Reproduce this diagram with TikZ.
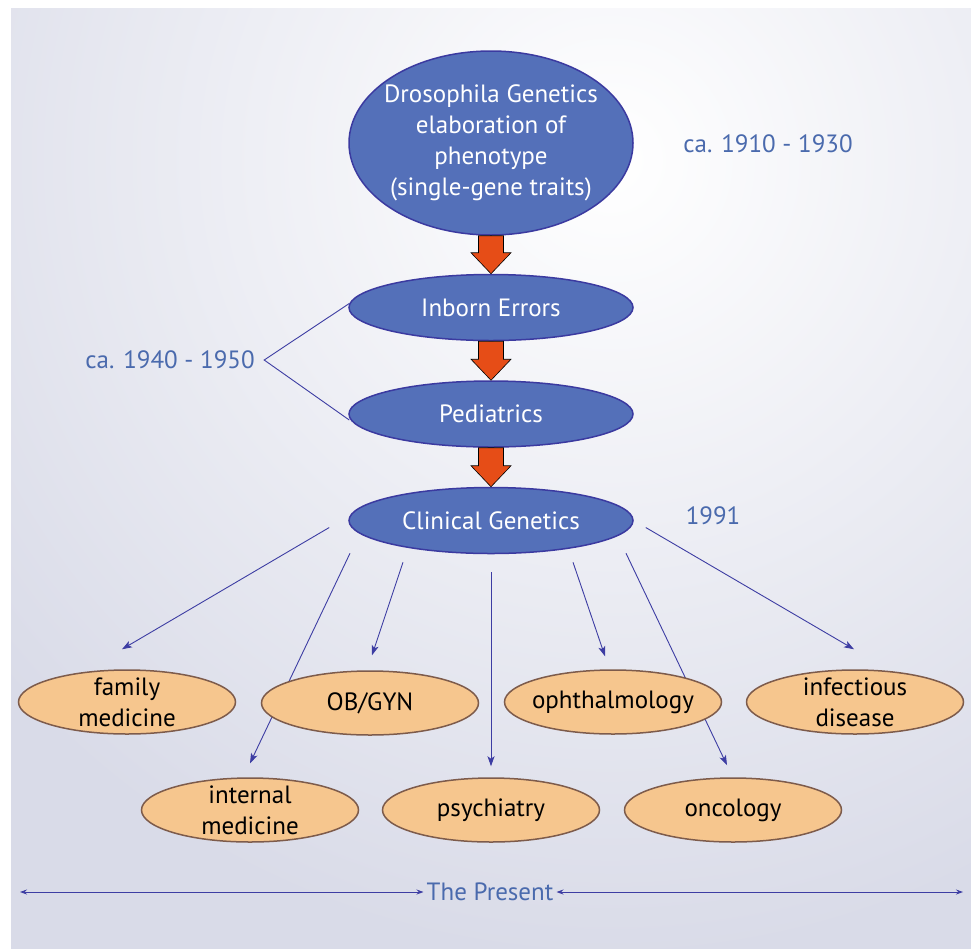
\documentclass[tikz,border=0pt]{standalone}
\usepackage{fontspec}
\setmainfont{PT Sans}
\usetikzlibrary{arrows.meta,calc,positioning,shapes.geometric}
\definecolor{stagefill}{HTML}{5470B9}
\definecolor{stageline}{HTML}{3B3AA0}
\definecolor{fieldfill}{HTML}{F6C68E}
\definecolor{fieldline}{HTML}{7D5B4B}
\definecolor{eratext}{HTML}{4A6AAD}
\definecolor{linkblue}{HTML}{3D3DA3}
\definecolor{pushred}{HTML}{E64D17}
\definecolor{bgc}{HTML}{D9DBE8}
\pgfdeclarelayer{bg}
\pgfdeclarelayer{back}
\pgfsetlayers{bg,back,main}
\newcommand{\bigfont}{\fontsize{25}{31}\selectfont}
% block arrow from the bottom of #1 down to the top of #2
\newcommand{\pushdown}[2]{%
  \filldraw[push] ($(#1.south)+(-12.5,0)$) -- ($(#1.south)+(12.5,0)$)
    |- ($(#2.north)+(20,-21)$) -- (#2.north) -- ($(#2.north)+(-20,-21)$) -| cycle;}

\begin{document}
\begin{tikzpicture}[
  x=1pt, y=-1pt,
  >={Stealth[length=10pt,width=7pt,inset=2.5pt]},
  stage/.style={ellipse, draw=stageline, line width=1.5pt, fill=stagefill,
                text=white, align=center, font=\bigfont,
                minimum width=284pt, minimum height=66pt, inner sep=0pt},
  field/.style={ellipse, draw=fieldline, line width=1.5pt, fill=fieldfill,
                align=center, font=\bigfont, text=black, minimum width=217pt,
                minimum height=64pt, inner xsep=-22pt, inner ysep=-7pt},
  era/.style={text=eratext, font=\bigfont},
  link/.style={->, draw=linkblue, line width=0.9pt},
  push/.style={fill=pushred, draw=black, line width=0.6pt}
]
  \useasboundingbox (0,0) rectangle (971,948);
  \begin{pgfonlayer}{bg}
    \fill[bgc] (11,8) rectangle (975,952);
    \begin{scope}
      \clip (11,8) rectangle (975,952);
      \shade[inner color=white, outer color=bgc] (610,160) circle (800);
    \end{scope}
  \end{pgfonlayer}

  % main line
  \node[stage, minimum height=184pt, inner xsep=-14pt] (dros) at (491,143)
    {Drosophila Genetics\\elaboration of\\phenotype\\(single-gene traits)};
  \node[stage, below=38pt of dros] (inb) {Inborn Errors};
  \node[stage, below=39pt of inb] (ped) {Pediatrics};
  \node[stage, below=39pt of ped] (clin) {Clinical Genetics};

  \pushdown{dros}{inb}
  \pushdown{inb}{ped}
  \pushdown{ped}{clin}

  % dates
  \node[era] (era1) at (768,144) {ca. 1910 - 1930};
  \node[era] (era2) at (170,360) {ca. 1940 - 1950};
  \node[era] (era3) at (713,516) {1991};
  \coordinate (fork) at ($(era2.east)+(6,0)$);
  \draw[linkblue, line width=0.9pt] ($(inb.west)+(1,-4)$) -- (fork) -- ($(ped.west)+(1,6)$);

  % specialties
  \node[field] (fam) at (127,702) {family\\medicine};
  \node[field] (ob)  at (370,703) {OB/GYN};
  \node[field] (oph) at (613,702) {ophthalmology};
  \node[field] (inf) at (855,702) {infectious\\disease};
  \node[field] (int) at (250,810) {internal\\medicine};
  \node[field] (psy) at (491,810) {psychiatry};
  \node[field] (onc) at (733,810) {oncology};

  \begin{pgfonlayer}{back}
    \draw[link] ($(clin.west)+(-19,7)$)    -- ($(fam.north)+(-5,-20)$);
    \draw[link] ($(clin.south)+(-141,-1)$) -- ($(int.north)+(0,-14)$);
    \draw[link] ($(clin.south)+(-88,8)$)   -- ($(ob.north)+(2,-15)$);
    \draw[link] ($(clin.south)+(0,18)$)    -- ($(psy.north)+(0,-11)$);
    \draw[link] ($(clin.south)+(82,8)$)    -- ($(oph.north)+(-8,-13)$);
    \draw[link] ($(clin.south)+(135,-1)$)  -- ($(onc.north)+(-6,-12)$);
    \draw[link] ($(clin.east)+(12,7)$)     -- ($(inf.north)+(-1,-20)$);
  \end{pgfonlayer}

  % time line
  \node[era, inner sep=3pt] (present) at (490,892) {The Present};
  \coordinate (leftend) at (20,892);
  \coordinate (rightend) at (963,892);
  \draw[link, <->, >={Stealth[length=7pt,width=5pt]}] (leftend) -- (present.west);
  \draw[link, <->, >={Stealth[length=7pt,width=5pt]}] (present.east) -- (rightend);
\end{tikzpicture}
\end{document}
